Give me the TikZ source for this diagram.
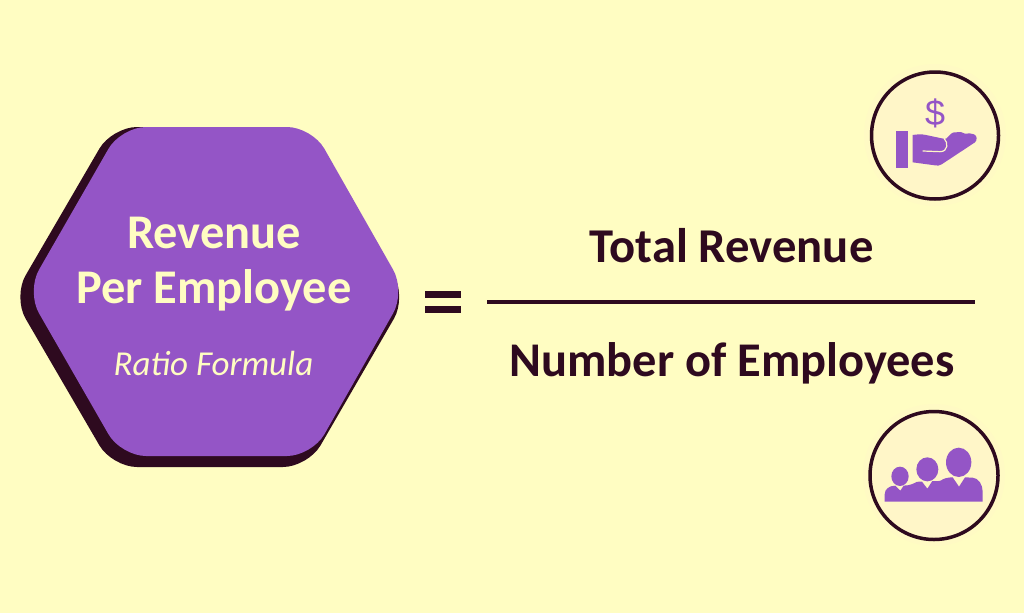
\documentclass[tikz,border=0pt]{standalone}
\usepackage{fontspec}
\setmainfont{Carlito}
\newfontfamily\dollarfont{Liberation Sans}
\definecolor{bgc}{HTML}{FFFDC2}
\definecolor{purp}{HTML}{9455C6}
\definecolor{darkc}{HTML}{2E0A1F}
\definecolor{halo}{HTML}{FFFAC4}
\definecolor{disc}{HTML}{FFF6C8}
\tikzset{
  lab/.style={anchor=base,inner sep=0pt,outer sep=0pt},
  creamtxt/.style={lab,text=bgc},
  darktxt/.style={lab,text=darkc},
  iconpic/.style={x=1pt/3,y=-1pt/3},
  ring/.style={draw=darkc,line width=3.5pt,fill=disc},
}
\begin{document}
\begin{tikzpicture}[x=1pt,y=-1pt]
\useasboundingbox (0,0) rectangle (1024,613);
\fill[bgc] (0,0) rectangle (1024,613);
% hexagon
\fill[darkc,rounded corners=25pt] (112,127) -- (308,127) -- (406.5,297) -- (308,467) -- (112,467) -- (13,297) -- cycle;
\fill[purp,rounded corners=25pt] (121,127) -- (312,127) -- (405.5,291.5) -- (312,456) -- (121,456) -- (26.5,291.5) -- cycle;
\node[creamtxt,font=\fontsize{48.4}{48}\selectfont\bfseries] (t1) at (214,248.5) {Revenue};
\node[creamtxt,font=\fontsize{48.4}{48}\selectfont\bfseries] (t2) at (214,303) {Per Employee};
\node[creamtxt,font=\fontsize{35}{35}\selectfont\itshape] (t3) at (213.5,375) {Ratio Formula};
% equals and fraction
\fill[darkc] (425,291) rectangle (461,298);
\fill[darkc] (425,306) rectangle (461,313);
\fill[darkc] (487,300) rectangle (975,304);
\node[darktxt,font=\fontsize{48.6}{48}\selectfont\bfseries] (n) at (731.5,262) {Total Revenue};
\node[darktxt,font=\fontsize{48.4}{48}\selectfont\bfseries] (d) at (732,376.5) {Number of Employees};
% top icon
\fill[halo] (935,135) circle (71);
\draw[ring] (935,135.5) circle (63.5);
\begin{scope}[shift={(850,55)},iconpic]
\fill[purp] (138,228) rectangle (175,338);
\fill[purp] (188,240) .. controls (200,238) and (215,237) .. (228,240)
  -- (275,250) .. controls (283,252) and (287,253) .. (290,250)
  .. controls (300,240) and (305,230) .. (318,232)
  .. controls (330,230) and (340,232) .. (345,236)
  .. controls (355,233) and (365,236) .. (372,238)
  .. controls (382,242) and (382,255) .. (375,262)
  -- (275,328) .. controls (268,333) and (262,332) .. (255,331)
  -- (188,322) -- cycle;
\draw[disc,line width=1.2pt] (218,288) -- (270,290) .. controls (295,290) and (295,262) .. (282,250);
\node[lab,text=purp,font=\dollarfont\fontsize{36}{36}\selectfont] (dollar) at (255,210) {\$};
\end{scope}
% bottom icon
\fill[halo] (934,475) circle (71);
\draw[ring] (934,475.5) circle (64);
\begin{scope}[shift={(850,395)},iconpic]
\fill[purp] (150,244) ellipse [x radius=26,y radius=29];
\fill[purp] (232,223) ellipse [x radius=33,y radius=36];
\fill[purp] (326,202) ellipse [x radius=38,y radius=44];
\fill[purp] (104,320) -- (104,298) .. controls (104,282) and (118,272) .. (136,272)
  -- (151,287) -- (161,272) .. controls (172,270) and (180,272) .. (187,267)
  .. controls (195,261) and (205,259) .. (216,260)
  -- (232,281) -- (247,258) .. controls (258,257) and (266,261) .. (272,257)
  .. controls (280,250) and (295,247) .. (308,247)
  -- (327,275) -- (345,247) -- (368,248)
  .. controls (385,249) and (398,268) .. (398,290)
  -- (398,320) -- cycle;
\end{scope}
\end{tikzpicture}
\end{document}
